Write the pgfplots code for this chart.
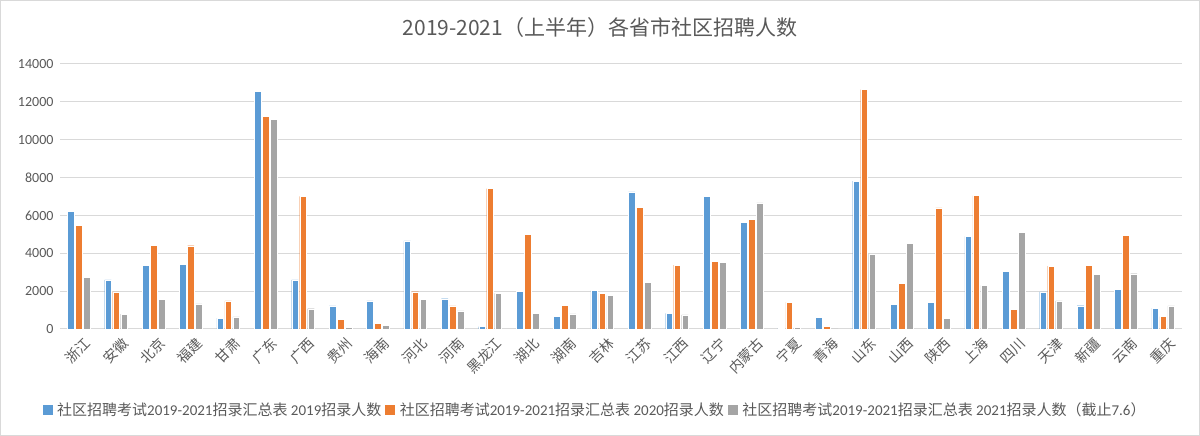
\documentclass[border=0pt]{standalone}
\usepackage{fontspec}
\setmainfont{Carlito}
\newfontfamily\cjk{Noto Sans CJK SC}
\usepackage{pgfplots}
\usepackage{pgfplotstable}
\pgfplotsset{compat=1.18}
\definecolor{cBlue}{HTML}{5B9BD5}
\definecolor{cOrange}{HTML}{ED7D31}
\definecolor{cGray}{HTML}{A5A5A5}
\definecolor{txt}{HTML}{595959}
\definecolor{grid}{HTML}{D9D9D9}

\pgfplotstableread{
x a b c
0 6230 5480 2730
1 2600 1960 780
2 3350 4430 1560
3 3420 4400 1330
4 570 1490 640
5 12540 11230 11090
6 2600 7010 1070
7 1220 510 90
8 1490 310 200
9 4650 1970 1560
10 1600 1220 960
11 130 7420 1880
12 1990 5000 840
13 680 1250 800
14 2040 1880 1780
15 7250 6430 2450
16 830 3380 740
17 6990 3560 3520
18 5620 5790 6660
19 50 1420 70
20 610 130 0
21 7810 12650 3960
22 1320 2400 4530
23 1390 6400 560
24 4890 7050 2300
25 3030 1040 5090
26 1960 3320 1490
27 1230 3350 2890
28 2080 4930 2920
29 1100 660 1220
}\datatable

\begin{document}
\begin{tikzpicture}
\useasboundingbox (0,0) rectangle (1200pt,436pt);
\draw[grid, line width=1pt] (0.5pt,0.5pt) rectangle (1199.5pt,435.5pt);
\node[font=\cjk\fontsize{21}{24}\selectfont, text=txt] at (600pt,408pt) {2019-2021（上半年）各省市社区招聘人数};
\begin{axis}[
  at={(60pt,107pt)}, anchor=south west, scale only axis,
  width=1122pt, height=265pt,
  ybar=1.3pt, bar width=6.7pt,
  xmin=-0.5, xmax=29.5, ymin=0, ymax=14000,
  enlargelimits=false,
  ytick={0,2000,...,14000},
  xtick={0,...,29},
  xticklabels={浙江,安徽,北京,福建,甘肃,广东,广西,贵州,海南,河北,河南,黑龙江,湖北,湖南,吉林,江苏,江西,辽宁,内蒙古,宁夏,青海,山东,山西,陕西,上海,四川,天津,新疆,云南,重庆},
  xticklabel style={font=\cjk\fontsize{14}{14}\selectfont, text=txt, rotate=45, anchor=east, xshift=1pt, yshift=-12pt, inner sep=0pt},
  yticklabel style={font=\fontsize{14}{14}\selectfont, text=txt, xshift=-3pt, /pgf/number format/1000 sep={}, /pgf/number format/assume math mode=true},
  scaled y ticks=false,
  axis line style={draw=none},
  tick style={draw=none},
  ymajorgrids,
  major grid style={draw=grid, line width=1pt},
  legend columns=3,
  legend style={at={(axis description cs:0.477,-0.306)}, anchor=center, draw=none, fill=none,
    font=\fontsize{15}{17}\selectfont, text=txt,
    /tikz/every odd column/.append style={column sep=3pt},
    /tikz/every even column/.append style={column sep=2pt}},
]
\addplot[fill=cBlue, draw=white, line width=0.4pt, legend image code/.code={\fill[cBlue] (0pt,-4.5pt) rectangle (9pt,4.5pt);}] table[x=x,y=a] {\datatable};
\addplot[fill=cOrange, draw=white, line width=0.4pt, legend image code/.code={\fill[cOrange] (0pt,-4.5pt) rectangle (9pt,4.5pt);}] table[x=x,y=b] {\datatable};
\addplot[fill=cGray, draw=white, line width=0.4pt, legend image code/.code={\fill[cGray] (0pt,-4.5pt) rectangle (9pt,4.5pt);}] table[x=x,y=c] {\datatable};
\legend{{\cjk 社区招聘考试}2019-2021{\cjk 招录汇总表} 2019{\cjk 招录人数},
        {\cjk 社区招聘考试}2019-2021{\cjk 招录汇总表} 2020{\cjk 招录人数},
        {\cjk 社区招聘考试}2019-2021{\cjk 招录汇总表} 2021{\cjk 招录人数（截止}7.6{\cjk ）}}
\end{axis}
\end{tikzpicture}
\end{document}
